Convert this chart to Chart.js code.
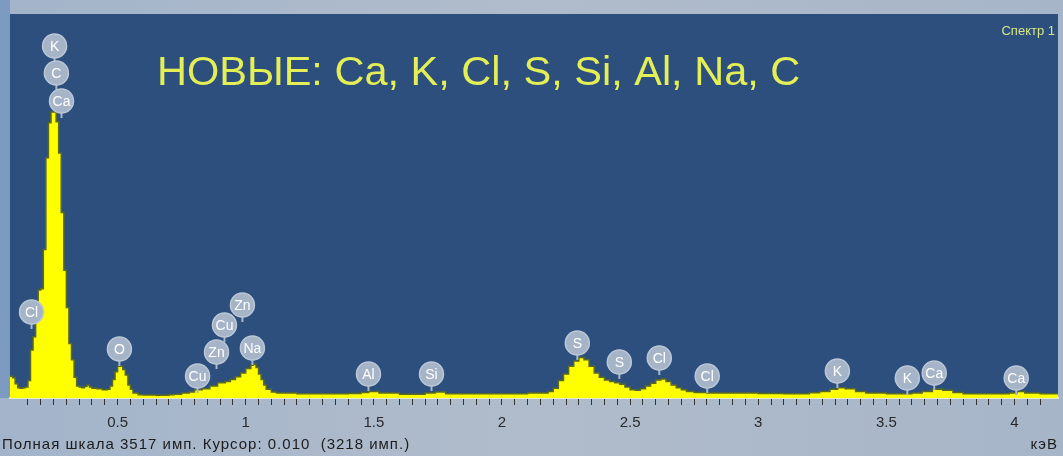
<!DOCTYPE html>
<html>
<head>
<meta charset="utf-8">
<script src="https://cdn.jsdelivr.net/npm/chart.js@4"></script>
<style>
  body { margin: 0; background: #a6b6cb; }
  canvas { display: block; }
</style>
</head>
<body>
<canvas id="spectrum" width="1063" height="456"></canvas>
<script>
const energy = [0.08, 0.09, 0.10, 0.11, 0.12, 0.13, 0.14, 0.15, 0.16, 0.17, 0.18, 0.19, 0.20, 0.21, 0.22, 0.23, 0.24, 0.25, 0.26, 0.27, 0.28, 0.29, 0.30, 0.31, 0.32, 0.33, 0.34, 0.35, 0.36, 0.37, 0.38, 0.39, 0.40, 0.42, 0.44, 0.46, 0.47, 0.48, 0.49, 0.50, 0.51, 0.52, 0.53, 0.54, 0.55, 0.56, 0.58, 0.60, 0.65, 0.70, 0.72, 0.75, 0.78, 0.80, 0.83, 0.86, 0.89, 0.92, 0.94, 0.96, 0.98, 1.00, 1.02, 1.03, 1.04, 1.05, 1.06, 1.07, 1.08, 1.10, 1.12, 1.20, 1.30, 1.40, 1.45, 1.48, 1.52, 1.60, 1.70, 1.74, 1.78, 1.90, 2.00, 2.10, 2.15, 2.18, 2.20, 2.22, 2.24, 2.26, 2.28, 2.30, 2.32, 2.34, 2.36, 2.38, 2.40, 2.42, 2.44, 2.46, 2.48, 2.50, 2.52, 2.54, 2.56, 2.58, 2.60, 2.62, 2.64, 2.66, 2.68, 2.70, 2.72, 2.75, 2.80, 2.90, 3.00, 3.10, 3.20, 3.24, 3.28, 3.31, 3.34, 3.38, 3.42, 3.50, 3.60, 3.64, 3.68, 3.72, 3.76, 3.80, 3.90, 3.98, 4.01, 4.04, 4.10, 4.17];
const counts = [200, 185, 130, 95, 90, 95, 100, 160, 440, 560, 715, 990, 1000, 1360, 2200, 2520, 2620, 2620, 2530, 2245, 1700, 1170, 830, 500, 350, 190, 110, 100, 95, 105, 120, 100, 90, 85, 75, 80, 110, 170, 240, 290, 290, 260, 210, 120, 80, 45, 30, 28, 25, 30, 35, 45, 55, 75, 85, 110, 140, 150, 170, 195, 230, 270, 300, 310, 280, 220, 170, 120, 80, 55, 45, 40, 40, 42, 50, 60, 45, 35, 45, 55, 40, 40, 38, 45, 45, 60, 90, 160, 220, 290, 340, 370, 350, 290, 230, 190, 165, 150, 140, 125, 100, 75, 70, 85, 110, 135, 165, 175, 150, 120, 95, 75, 60, 50, 45, 45, 42, 40, 48, 60, 80, 95, 85, 60, 45, 40, 45, 60, 80, 70, 50, 40, 38, 45, 60, 45, 40, 40];

// marcadores de elementos
const elementNames = ['K', 'C', 'Ca', 'Cl', 'O', 'Cu', 'Zn', 'Cu', 'Zn', 'Na', 'Al', 'Si', 'S', 'S', 'Cl', 'Cl', 'K', 'K', 'Ca', 'Ca'];
const elementEnergy = [0.254, 0.261, 0.281, 0.164, 0.507, 0.812, 0.886, 0.917, 0.987, 1.026, 1.479, 1.725, 2.294, 2.458, 2.614, 2.801, 3.309, 3.582, 3.687, 4.007];
const elementLevel = [3224, 2977, 2720, 788, 449, 202, 421, 669, 852, 458, 220, 220, 504, 330, 366, 202, 247, 183, 229, 183];

const majorTicks = [0.5, 1, 1.5, 2, 2.5, 3, 3.5, 4];
const fullScale = 3517;

const fundo = {
  id: 'fundo',
  beforeDraw(chart) {
    const c = chart.ctx, a = chart.chartArea;
    const g = c.createLinearGradient(0, 0, chart.width, 0);
    g.addColorStop(0, '#a3b4ca');
    g.addColorStop(0.5, '#b0bccb');
    g.addColorStop(1, '#a6b5c8');
    c.save();
    c.fillStyle = g;
    c.fillRect(0, 0, chart.width, chart.height);
    c.fillStyle = '#7d9bc0';
    c.fillRect(0, 0, a.left, a.bottom);
    c.fillStyle = '#2c4f7e';
    c.fillRect(a.left, a.top, a.right - a.left, a.bottom - a.top);
    c.restore();
  }
};

const marcadores = {
  id: 'marcadores',
  afterDatasetsDraw(chart) {
    const c = chart.ctx, x = chart.scales.x, y = chart.scales.y, a = chart.chartArea;
    c.save();
    // textos
    c.fillStyle = '#e4ee55';
    c.font = '41.5px "Liberation Sans", Arial';
    c.textBaseline = 'alphabetic';
    c.textAlign = 'left';
    c.fillText('НОВЫЕ: Ca, K, Cl, S, Si, Al, Na, C', 157, 85);
    c.fillStyle = '#d6e684';
    c.font = '13px "Liberation Sans", Arial';
    c.textAlign = 'right';
    c.fillText('Спектр 1', a.right - 3, 35);

    c.fillStyle = '#1c1c1c';
    c.font = '15px "Liberation Sans", Arial';
    c.letterSpacing = '1px';
    c.textAlign = 'left';
    c.fillText('Полная шкала 3517 имп. Курсор: 0.010  (3218 имп.)', 2, 449);
    c.textAlign = 'right';
    c.fillText('кэВ', 1058, 449);
    c.letterSpacing = '0px';

    // circulos
    const r = 12;
    elementNames.forEach((nome, i) => {
      const px = x.getPixelForValue(elementEnergy[i]);
      const py = y.getPixelForValue(elementLevel[i]);
      c.strokeStyle = '#a9b7cb';
      c.lineWidth = 2;
      c.beginPath();
      c.moveTo(px, py + r - 1);
      c.lineTo(px, py + r + 5);
      c.stroke();
      c.beginPath();
      c.arc(px, py, r, 0, Math.PI * 2);
      c.fillStyle = '#a6b4c8';
      c.fill();
      c.lineWidth = 1.5;
      c.strokeStyle = '#bcc7d6';
      c.stroke();
      c.fillStyle = '#ffffff';
      c.font = '14px "Liberation Sans", Arial';
      c.textAlign = 'center';
      c.textBaseline = 'middle';
      c.fillText(nome, px, py + 1);
    });
    c.restore();
  }
};

new Chart(document.getElementById('spectrum'), {
  type: 'line',
  data: {
    datasets: [{
      data: energy.map((e, i) => ({ x: e, y: counts[i] })),
      stepped: true,
      fill: 'origin',
      backgroundColor: '#ffff00',
      borderColor: '#5b6a22',
      borderWidth: 1.5,
      pointRadius: 0
    }]
  },
  options: {
    responsive: false,
    animation: false,
    layout: { padding: { left: 10, right: 5, top: 14, bottom: 15 } },
    plugins: {
      legend: { display: false },
      tooltip: { enabled: false }
    },
    scales: {
      x: {
        type: 'linear',
        min: 0.08,
        max: 4.17,
        afterBuildTicks: axis => {
          axis.ticks = axis.ticks.filter(t => Math.abs(t.value / 0.05 - Math.round(t.value / 0.05)) < 1e-6);
        },
        ticks: {
          stepSize: 0.05,
          autoSkip: false,
          maxRotation: 0,
          padding: 9,
          color: '#2a2a2a',
          font: { family: 'Liberation Sans', size: 15 },
          callback: v => majorTicks.some(m => Math.abs(m - v) < 1e-6) ? String(Math.round(v * 10) / 10) : ''
        },
        grid: { drawOnChartArea: false, tickLength: 7, tickColor: '#333333' },
        border: { color: '#e6ead2', width: 2 }
      },
      y: { display: false, min: 0, max: fullScale }
    }
  },
  plugins: [fundo, marcadores]
});
</script>
</body>
</html>
